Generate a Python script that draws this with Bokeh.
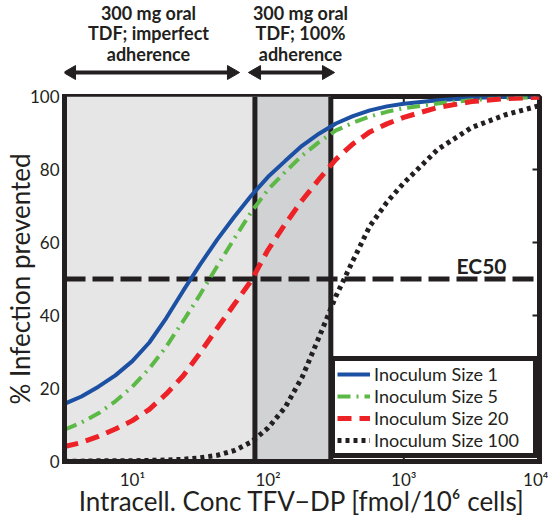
import math
from bokeh.plotting import figure
from bokeh.layouts import column
from bokeh.models import Range1d, FixedTicker
from bokeh.embed import file_html
from bokeh.resources import INLINE

# ---------------- data ----------------
conc = [3.162, 4.217, 5.623, 7.499, 10.0, 13.34, 17.78, 23.71, 31.62, 42.17, 56.23, 74.99,
        100.0, 133.4, 177.8, 237.1, 316.2, 421.7, 562.3, 749.9, 1000.0, 1778.0, 3162.0,
        5623.0, 10000.0]
inoc_1 = [15.8, 17.8, 20.5, 23.6, 27.5, 32.6, 39.3, 46.8, 54.0, 60.8, 67.0, 72.8, 78.0,
          82.3, 86.5, 89.8, 92.6, 94.6, 96.2, 97.3, 98.0, 99.0, 99.6, 99.9, 100.0]
inoc_5 = [8.7, 10.7, 13.2, 16.5, 20.5, 25.5, 31.5, 38.5, 45.8, 53.5, 61.0, 68.3, 74.5,
          79.3, 83.8, 87.5, 90.7, 92.8, 94.5, 95.8, 96.8, 98.1, 99.0, 99.5, 99.8]
inoc_20 = [4.1, 5.2, 6.9, 8.9, 11.2, 14.3, 18.5, 23.5, 29.8, 36.5, 43.0, 49.5, 58.0,
           65.0, 71.5, 77.3, 82.8, 87.0, 90.3, 92.5, 94.3, 97.0, 98.6, 99.4, 99.8]
inoc_100 = [0.1, 0.1, 0.2, 0.2, 0.2, 0.3, 0.4, 0.6, 1.0, 1.7, 3.0, 5.3, 9.2,
            14.8, 23.0, 34.0, 45.3, 55.0, 64.5, 71.0, 76.3, 85.5, 91.5, 95.0, 97.5]
series_labels = ["Inoculum Size 1", "Inoculum Size 5", "Inoculum Size 20", "Inoculum Size 100"]

x_min, x_max = 3.162, 10000.0
y_min, y_max = 0, 100
adherence_bounds = [80.0, 290.0]     # imperfect adherence < 80, 100% adherence 80-290
region_texts = [["300 mg oral", "TDF; imperfect", "adherence"],
                ["300 mg oral", "TDF; 100%", "adherence"]]
ec50 = 50
x_ticks = [10, 100, 1000, 10000]
x_tick_labels = ["10¹", "10²", "10³", "10⁴"]
y_ticks = [0, 20, 40, 60, 80, 100]

# ---------------- layout (page pixels) ----------------
INK = "#231f20"
FONT = "Lato"
FRAME_L, FRAME_W, FRAME_H = 63, 475, 365
TOP_H = 80            # height of the annotation strip above the chart
BOX_TOP, BOX_BOTTOM = 96, 461
PX_PER_DEC = FRAME_W / (math.log10(x_max) - math.log10(x_min))
PPU = (BOX_BOTTOM - BOX_TOP) / (y_max - y_min)

def xd(px):
    return 10 ** (math.log10(x_min) + (px - FRAME_L) / PX_PER_DEC)
def yd(py):
    return (BOX_BOTTOM - py) / PPU
def yt(py):
    return TOP_H - py

xr = Range1d(x_min, x_max)

# ---------------- annotation strip ----------------
top = figure(frame_width=FRAME_W, frame_height=TOP_H, x_axis_type="log", x_range=xr,
             y_range=Range1d(0, TOP_H), x_axis_location=None, y_axis_location=None,
             output_backend="svg", toolbar_location=None,
             min_border_left=55, min_border_right=9, min_border_top=0, min_border_bottom=0)
top.grid.visible = False
top.outline_line_color = None

centers = [xd(147), xd(299)]
line_ys = [yt(12), yt(32.5), yt(53)]
tx, ty, tt = [], [], []
for c, lines in zip(centers, region_texts):
    for yy, t in zip(line_ys, lines):
        tx.append(c); ty.append(yy); tt.append(t)
top.text(x=tx, y=ty, text=tt, text_align="center", text_baseline="middle",
         text_font={"value": FONT}, text_font_style="bold", text_font_size="18px",
         text_color=INK)

arrow_y = yt(72)
arrow_tips = [(63, 237), (248, 332)]
head = 7
sx0 = [xd(a + head) for a, b in arrow_tips]
sx1 = [xd(b - head) for a, b in arrow_tips]
top.segment(x0=sx0, y0=[arrow_y] * 2, x1=sx1, y1=[arrow_y] * 2, line_color=INK, line_width=4)
top.scatter(x=sx0, y=[arrow_y] * 2, marker="triangle", size=14, angle=math.pi / 2,
            fill_color=INK, line_color=INK)
top.scatter(x=sx1, y=[arrow_y] * 2, marker="triangle", size=14, angle=-math.pi / 2,
            fill_color=INK, line_color=INK)

# ---------------- main chart ----------------
p = figure(frame_width=FRAME_W, frame_height=FRAME_H, x_axis_type="log",
           x_range=xr, y_range=Range1d(y_min, y_max),
           output_backend="svg", toolbar_location=None,
           min_border_left=55, min_border_right=9, min_border_top=BOX_TOP - TOP_H,
           min_border_bottom=40)
p.grid.visible = False
p.outline_line_color = INK
p.outline_line_width = 5
p.outline_line_alpha = 1
p.background_fill_color = "white"

# inner tick marks (covered by the shading where they overlap)
tick_dx = 10 ** (7 / PX_PER_DEC)
tick_dy = 7 / PPU
p.segment(x0=x_ticks, y0=[y_max] * 4, x1=x_ticks, y1=[y_max - tick_dy] * 4,
          line_color=INK, line_width=2)
p.segment(x0=x_ticks, y0=[y_min] * 4, x1=x_ticks, y1=[y_min + tick_dy] * 4,
          line_color=INK, line_width=2)
p.segment(x0=[x_max] * 6, y0=y_ticks, x1=[x_max / tick_dx] * 6, y1=y_ticks,
          line_color=INK, line_width=2)
p.segment(x0=[x_min] * 6, y0=y_ticks, x1=[x_min * tick_dx] * 6, y1=y_ticks,
          line_color=INK, line_width=2)

# shaded regions
p.quad(left=[x_min, adherence_bounds[0]], right=adherence_bounds,
       bottom=[y_min, y_min], top=[y_max, y_max],
       fill_color=["#e6e6e6", "#d1d2d4"], line_color=None)
p.segment(x0=adherence_bounds, y0=[y_min] * 2, x1=adherence_bounds, y1=[y_max] * 2,
          line_color=INK, line_width=5)
p.segment(x0=[x_min], y0=[ec50], x1=[x_max], y1=[ec50], line_color=INK, line_width=5,
          line_dash="21 7")

# curves
p.line(conc, inoc_1, line_color="#1c50a3", line_width=4, legend_label=series_labels[0])
p.line(conc, inoc_5, line_color="#5cb946", line_width=4, line_dash="13 6 2 6",
       legend_label=series_labels[1])
p.line(conc, inoc_20, line_color="#ec2227", line_width=5, line_dash="14 8",
       legend_label=series_labels[2])
p.line(conc, inoc_100, line_color=INK, line_width=5, line_dash="4 4",
       legend_label=series_labels[3])

p.text(x=[xd(455)], y=[yd(265)], text=["EC50"], text_align="left",
       text_baseline="middle", text_font={"value": FONT}, text_font_style="bold",
       text_font_size="21px", text_color=INK)

# axes
for ax in (p.xaxis[0], p.yaxis[0]):
    ax.axis_line_width = 5
    ax.axis_line_color = INK
    ax.axis_line_cap = "square"
    ax.major_tick_in = 0
    ax.major_tick_out = 0
    ax.minor_tick_line_color = None
    ax.major_label_text_font = FONT
    ax.major_label_text_font_size = "17px"
    ax.major_label_text_color = INK
    ax.axis_label_text_font = FONT
    ax.axis_label_text_font_style = "normal"
    ax.axis_label_text_color = INK

p.xaxis.ticker = FixedTicker(ticks=x_ticks, minor_ticks=[])
p.xaxis.major_label_overrides = dict(zip(x_ticks, x_tick_labels))
p.xaxis.major_label_standoff = 7
p.xaxis.axis_label = "Intracell. Conc TFV\u2212DP [fmol/10\u2076 cells]"
p.xaxis.axis_label_text_font_size = "26px"
p.xaxis.axis_label_standoff = -8

p.yaxis.ticker = FixedTicker(ticks=y_ticks, minor_ticks=[])
p.yaxis.major_label_standoff = 5
p.yaxis.axis_label = "% Infection prevented"
p.yaxis.axis_label_text_font_size = "26px"
p.yaxis.axis_label_standoff = -9

# legend
lg = p.legend[0]
lg.location = (266, 3)
lg.border_line_color = INK
lg.border_line_width = 5
lg.border_line_alpha = 1
lg.padding = 2
lg.spacing = -4
lg.margin = 0
lg.label_height = 20
lg.glyph_height = 20
lg.glyph_width = 33
lg.label_standoff = 4
lg.label_width = 157
lg.label_text_font = FONT
lg.label_text_font_size = "18px"
lg.label_text_color = INK
lg.background_fill_alpha = 1

layout = column(top, p, spacing=0)
open("out.html", "w").write(file_html(layout, INLINE))
